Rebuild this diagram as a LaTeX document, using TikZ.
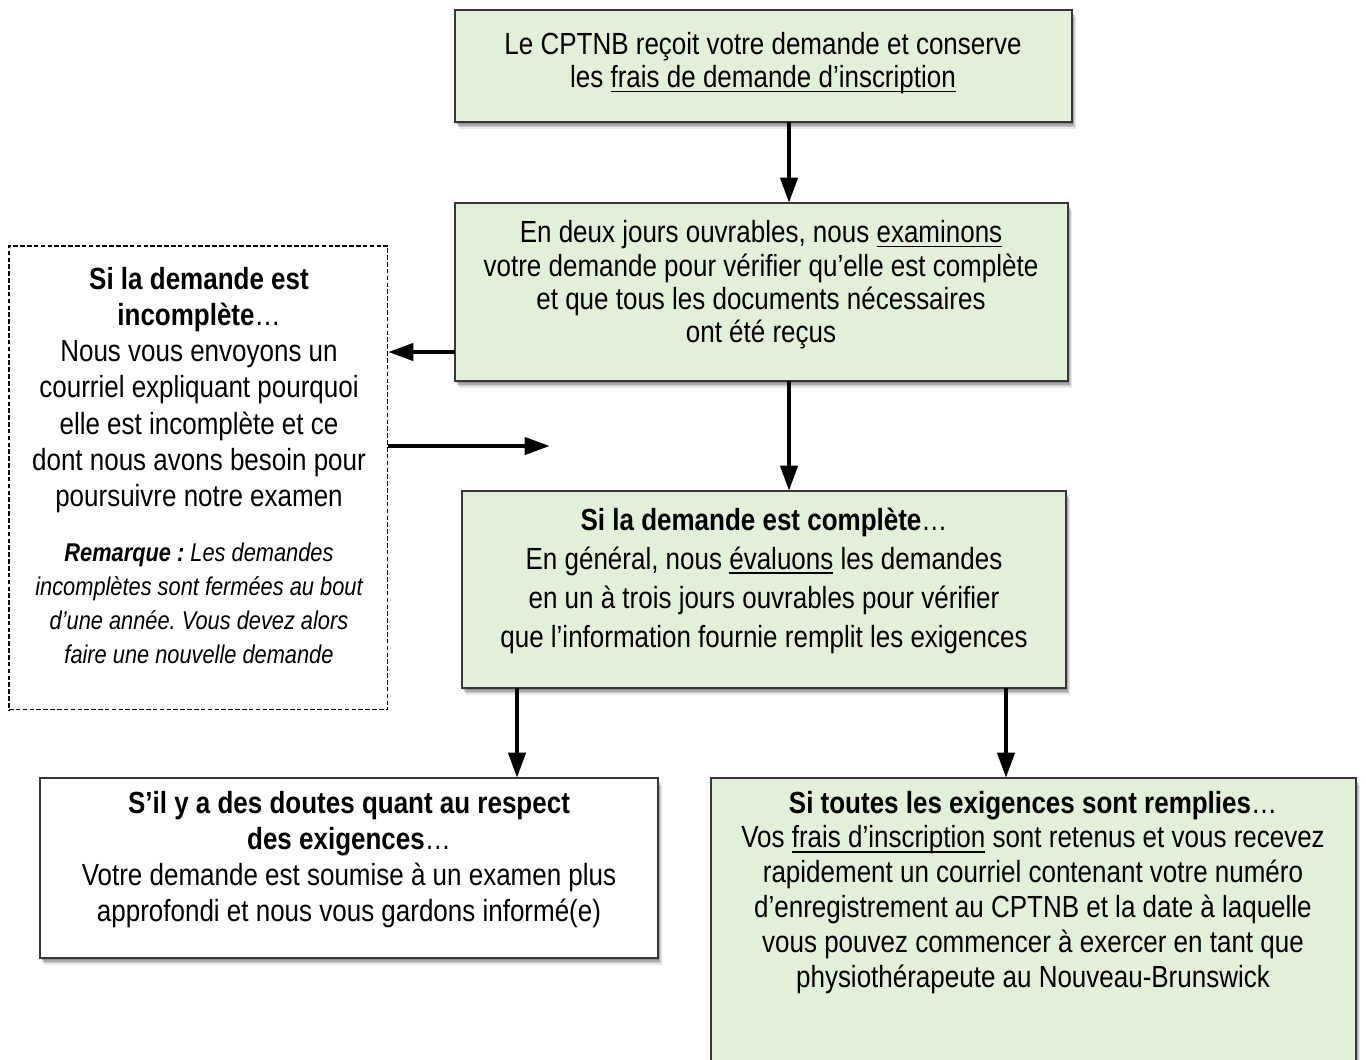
\documentclass[tikz,border=0pt]{standalone}
\usepackage{fontspec}
\setmainfont{Liberation Sans}[FakeStretch=0.85]
\usetikzlibrary{arrows.meta}
\definecolor{boxgreen}{RGB}{226,239,217}
\definecolor{boxline}{RGB}{55,55,55}
\newsavebox{\ulbox}
\newcommand{\myul}[1]{\sbox{\ulbox}{#1}\rlap{\rule[-2.6pt]{\wd\ulbox}{1pt}}\usebox{\ulbox}}
\frenchspacing
\begin{document}
\begin{tikzpicture}[x=0.02cm,y=-0.02cm,
  softshadow/.style={
    preaction={fill=black, opacity=0.09, transform canvas={xshift=2.4pt, yshift=-4.0pt}},
    preaction={fill=black, opacity=0.12, transform canvas={xshift=1.9pt, yshift=-3.0pt}},
    preaction={fill=black, opacity=0.15, transform canvas={xshift=1.4pt, yshift=-2.1pt}},
    preaction={fill=black, opacity=0.18, transform canvas={xshift=0.8pt, yshift=-1.2pt}}},
  frame/.style={draw=boxline, line width=0.85pt, anchor=north west, inner sep=0pt, outer sep=0pt, softshadow},
  greenbox/.style={frame, fill=boxgreen},
  whitebox/.style={frame, fill=white},
  dashbox/.style={draw=black, line width=0.6pt, dash pattern=on 2.6pt off 1.3pt, anchor=north west,
    inner sep=0pt, outer sep=0pt, fill=white},
  txt/.style={align=center, inner sep=0pt, font=\fontsize{17.4}{#1}\selectfont},
  remtxt/.style={align=center, inner sep=0pt, font=\fontsize{14.6}{#1}\selectfont\itshape},
  arr/.style={line width=2.7pt, -{Triangle[length=14.5pt, width=9.6pt]}}
]
\useasboundingbox[fill=white] (0,0) rectangle (1366,1059);

% boxes
\node[greenbox, minimum width=12.34cm, minimum height=2.24cm] (b1) at (455,10) {};
\node[greenbox, minimum width=12.26cm, minimum height=3.56cm] (b2) at (455,203) {};
\node[greenbox, minimum width=12.08cm, minimum height=3.94cm] (b3) at (462,491) {};
\node[dashbox, minimum width=7.58cm, minimum height=9.28cm] (inc) at (9,246) {};
\node[whitebox, minimum width=12.36cm, minimum height=3.6cm] (b4) at (40,778) {};
\node[greenbox, minimum width=12.9cm, minimum height=6.6cm] (b5) at (711,778) {};

% texts
\node[txt=18.8pt] (t1) at (763,63.5) {Le CPTNB reçoit votre demande et conserve\\ les \myul{frais de demande d’inscription}};
\node[txt=19pt] (t2) at (761,285) {En deux jours ouvrables, nous \myul{examinons}\\ votre demande pour vérifier qu’elle est complète\\ et que tous les documents nécessaires\\ ont été reçus};
\node[txt=22.2pt] (t3) at (764,581) {\textbf{Si la demande est complète}…\\ En général, nous \myul{évaluons} les demandes\\ en un à trois jours ouvrables pour vérifier\\ que l’information fournie remplit les exigences};
\node[txt=20.6pt] (tinc) at (199,390) {\textbf{Si la demande est}\\ \textbf{incomplète}…\\ Nous vous envoyons un\\ courriel expliquant pourquoi\\ elle est incomplète et ce\\ dont nous avons besoin pour\\ poursuivre notre examen};
\node[remtxt=19.3pt] (trem) at (199,603) {\textbf{Remarque :} Les demandes\\ incomplètes sont fermées au bout\\ d’une année. Vous devez alors\\ faire une nouvelle demande};
\node[txt=20.5pt] (t4) at (349,859.5) {\textbf{S’il y a des doutes quant au respect}\\ \textbf{des exigences}…\\ Votre demande est soumise à un examen plus\\ approfondi et nous vous gardons informé(e)};
\node[txt=19.9pt] (t5) at (1033,892.5) {\textbf{Si toutes les exigences sont remplies}…\\ Vos \myul{frais d’inscription} sont retenus et vous recevez\\ rapidement un courriel contenant votre numéro\\ d’enregistrement au CPTNB et la date à laquelle\\ vous pouvez commencer à exercer en tant que\\ physiothérapeute au Nouveau-Brunswick};

% connectors
\coordinate (ret) at (550,446);
\draw[arr] (b1.south -| 789,0) -- (b2.north -| 789,0);
\draw[arr] (b2.south -| 789,0) -- (b3.north -| 789,0);
\draw[arr] (b2.west |- 0,352) -- (inc.east |- 0,352);
\draw[arr] (inc.east |- ret) -- (ret);
\draw[arr] (b3.south -| 517,0) -- (b4.north -| 517,0);
\draw[arr] (b3.south -| 1006,0) -- (b5.north -| 1006,0);
\end{tikzpicture}
\end{document}
